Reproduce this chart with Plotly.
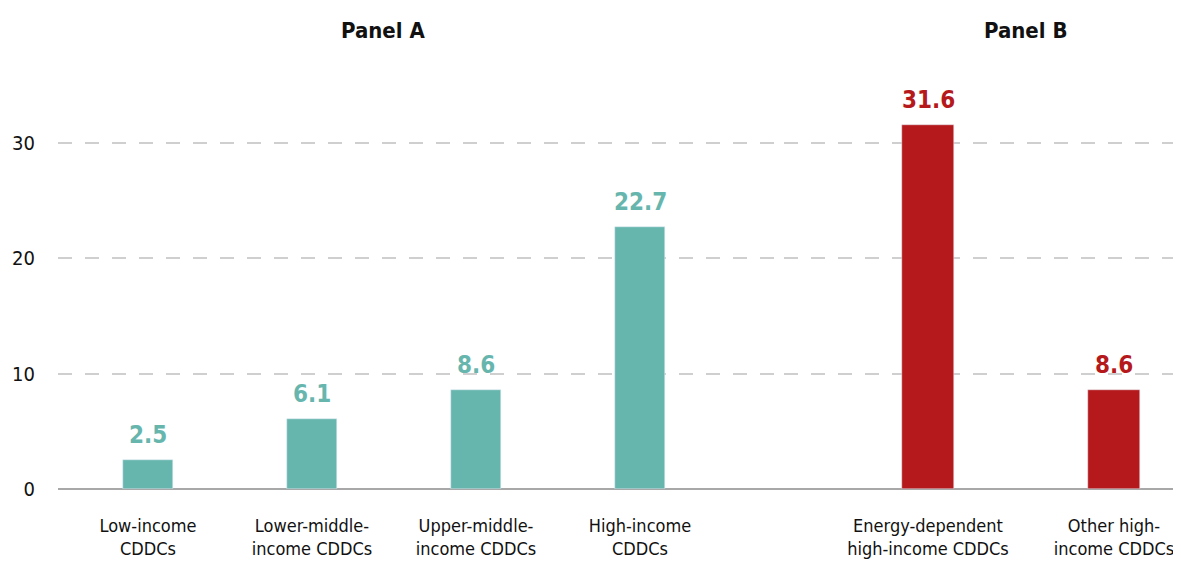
import plotly.graph_objects as go

# Data
panel_a_categories = ["Low-income<br>CDDCs", "Lower-middle-<br>income CDDCs",
                      "Upper-middle-<br>income CDDCs", "High-income<br>CDDCs"]
panel_a_values = [2.5, 6.1, 8.6, 22.7]
panel_b_categories = ["Energy-dependent<br>high-income CDDCs", "Other high-<br>income CDDCs"]
panel_b_values = [31.6, 8.6]
panel_titles = ["Panel A", "Panel B"]
y_ticks = [0, 10, 20, 30]

TEAL = "#67b6ae"
RED = "#b5191b"
FONT = "Liberation Sans Narrow, DejaVu Sans Condensed, Roboto Condensed, Arial Narrow, sans-serif"

OFF = 8  # page body margin offset
W, H = 1181 - OFF, 564 - OFF
L, T = 58 - OFF, 74 - OFF
R = 0
B = H - (489 - OFF)
PW, PH = W - L - R, H - T - B

fig = go.Figure()
fig.add_trace(go.Bar(x=panel_a_categories, y=panel_a_values, marker_color=TEAL,
                     width=0.31, xaxis="x", yaxis="y", showlegend=False, hoverinfo="x+y"))
fig.add_trace(go.Bar(x=panel_b_categories, y=panel_b_values, marker_color=RED,
                     width=0.28, xaxis="x2", yaxis="y", showlegend=False, hoverinfo="x+y"))

annotations = []
for c, v in zip(panel_a_categories, panel_a_values):
    annotations.append(dict(x=c, y=v, xref="x", yref="y", text=f"<b>{v:.1f}</b>",
                            showarrow=False, yanchor="bottom", yshift=9,
                            font=dict(family=FONT, size=24, color=TEAL)))
for c, v in zip(panel_b_categories, panel_b_values):
    annotations.append(dict(x=c, y=v, xref="x2", yref="y", text=f"<b>{v:.1f}</b>",
                            showarrow=False, yanchor="bottom", yshift=9,
                            font=dict(family=FONT, size=24, color=RED)))
for title, cx in zip(panel_titles, [383, 1026]):
    annotations.append(dict(x=(cx - 58) / PW, y=1 + (74 - 31) / PH, xref="paper", yref="paper",
                            text=f"<b>{title}</b>", showarrow=False,
                            xanchor="center", yanchor="middle",
                            font=dict(family=FONT, size=22, color="#111")))

# boundary between panels at 784 px (screen)
d = (784 - 58) / PW

tick_font = dict(family=FONT, size=18, color="#111")
fig.update_layout(
    width=W, height=H,
    margin=dict(l=L, r=R, t=T, b=B, autoexpand=False),
    plot_bgcolor="white", paper_bgcolor="white",
    bargap=0,
    font=dict(family=FONT, size=18, color="#111"),
    annotations=annotations,
    xaxis=dict(domain=[0, d], anchor="y", range=[-90 / 164, (784 - 148) / 164],
               showgrid=False, showline=False, zeroline=False, ticks="", automargin=False,
               ticklabelstandoff=24, tickfont=tick_font),
    xaxis2=dict(domain=[d, 1], anchor="y", range=[-144 / 186, (1181 - 928) / 186],
                showgrid=False, showline=False, zeroline=False, ticks="", automargin=False,
                ticklabelstandoff=24, tickfont=tick_font),
    yaxis=dict(range=[0, 36], tickvals=y_ticks, showgrid=True, gridcolor="#cfcfcf",
               griddash="14px,13px", gridwidth=1.5, zeroline=True, zerolinecolor="#a8a8a8",
               zerolinewidth=1.5, showline=False, ticks="outside", ticklen=18, automargin=False,
               tickcolor="rgba(0,0,0,0)", tickfont=dict(family=FONT, size=20, color="#111")),
)

fig.write_html("out.html")
